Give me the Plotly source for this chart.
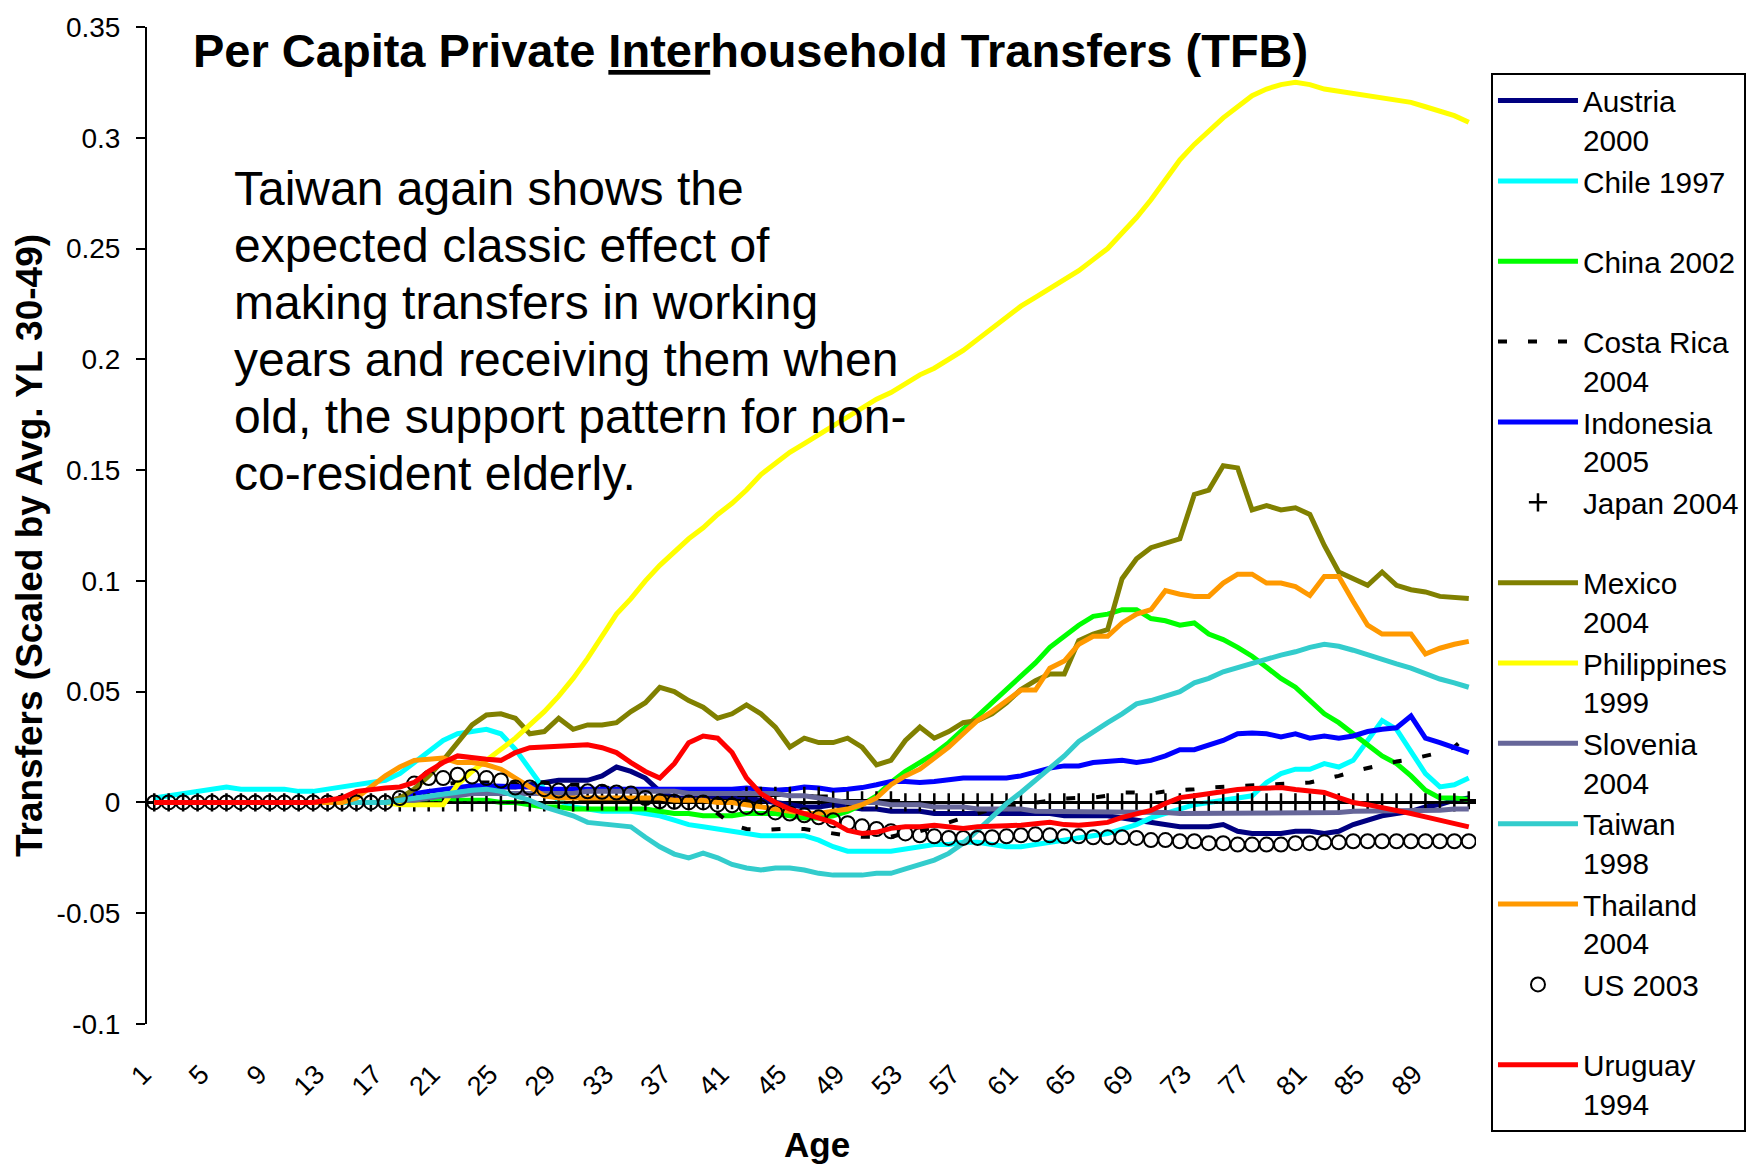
import plotly.graph_objects as go

AGES = list(range(1, 93))
TICK_AGES = list(range(1, 90, 4))
Y_TICKS = [-0.1, -0.05, 0, 0.05, 0.1, 0.15, 0.2, 0.25, 0.3, 0.35]
Y_TICK_TEXT = ["-0.1", "-0.05", "0", "0.05", "0.1", "0.15", "0.2", "0.25", "0.3", "0.35"]

AUSTRIA = [0, 0, 0, 0, 0, 0, 0, 0, 0, 0,
           0, 0, 0, 0, 0, 0, 0, 0, 0.001, 0.002,
           0.003, 0.004, 0.005, 0.006, 0.007, 0.007, 0.008, 0.009, 0.010, 0.010,
           0.010, 0.012, 0.016, 0.014, 0.011, 0.005, 0.002, 0.002, 0.002, 0.002,
           0.002, 0.002, 0.001, 0.000, -0.001, -0.002, -0.002, -0.001, -0.002, -0.003,
           -0.003, -0.004, -0.004, -0.004, -0.005, -0.005, -0.005, -0.005, -0.005, -0.005,
           -0.005, -0.005, -0.005, -0.006, -0.006, -0.006, -0.006, -0.007, -0.008, -0.009,
           -0.010, -0.011, -0.011, -0.011, -0.010, -0.013, -0.014, -0.014, -0.014, -0.013,
           -0.013, -0.014, -0.013, -0.010, -0.008, -0.006, -0.005, -0.004, -0.002, -0.001,
           0.001, 0.002]

CHILE = [0.002, 0.003, 0.004, 0.005, 0.006, 0.007, 0.006, 0.006, 0.006, 0.006,
         0.005, 0.005, 0.006, 0.007, 0.008, 0.009, 0.010, 0.013, 0.018, 0.023,
         0.028, 0.031, 0.032, 0.033, 0.031, 0.024, 0.015, 0.006, 0.001, -0.002,
         -0.003, -0.004, -0.004, -0.004, -0.005, -0.006, -0.008, -0.010, -0.011, -0.012,
         -0.013, -0.014, -0.015, -0.015, -0.015, -0.015, -0.017, -0.020, -0.022, -0.022,
         -0.022, -0.022, -0.021, -0.020, -0.019, -0.019, -0.018, -0.018, -0.019, -0.020,
         -0.020, -0.019, -0.018, -0.017, -0.016, -0.015, -0.014, -0.012, -0.010, -0.007,
         -0.005, -0.003, -0.001, 0.000, 0.001, 0.002, 0.003, 0.009, 0.013, 0.015,
         0.015, 0.0175, 0.016, 0.019, 0.028, 0.037, 0.033, 0.023, 0.013, 0.007,
         0.008, 0.011]

CHINA = [0, 0, 0, 0, 0, 0, 0, 0, 0, 0,
         0, 0, 0, 0, 0, 0, 0, 0, 0, 0,
         0.001, 0.001, 0.001, 0.001, 0.000, 0.000, -0.001, -0.002, -0.002, -0.003,
         -0.003, -0.003, -0.003, -0.003, -0.003, -0.004, -0.005, -0.005, -0.006, -0.006,
         -0.006, -0.005, -0.005, -0.005, -0.006, -0.007, -0.007, -0.006, -0.004, -0.001,
         0.003, 0.009, 0.014, 0.018, 0.022, 0.027, 0.033, 0.039, 0.045, 0.051,
         0.057, 0.063, 0.070, 0.075, 0.080, 0.084, 0.085, 0.087, 0.087, 0.083,
         0.082, 0.080, 0.081, 0.076, 0.0735, 0.070, 0.066, 0.061, 0.056, 0.052,
         0.046, 0.040, 0.036, 0.031, 0.0265, 0.021, 0.0175, 0.012, 0.0055, 0.002,
         0.002, 0.0013]

COSTA_RICA = [0, 0, 0, 0, 0, 0, 0, 0, 0, 0,
              0, 0, 0, 0, 0, 0, 0, 0, 0.002, 0.005,
              0.008, 0.009, 0.009, 0.009, 0.009, 0.009, 0.009, 0.009, 0.008, 0.008,
              0.008, 0.007, 0.006, 0.005, 0.004, 0.003, 0.002, 0.001, -0.001, -0.005,
              -0.010, -0.012, -0.0125, -0.012, -0.0117, -0.012, -0.013, -0.014, -0.015, -0.0155,
              -0.0157, -0.0155, -0.014, -0.013, -0.011, -0.009, -0.007, -0.005, -0.003, -0.002,
              -0.001, 0.000, 0.001, 0.0018, 0.002, 0.0022, 0.003, 0.0045, 0.0045, 0.004,
              0.005, 0.0054, 0.006, 0.0067, 0.007, 0.0072, 0.0076, 0.008, 0.0082, 0.0085,
              0.009, 0.0105, 0.012, 0.014, 0.0155, 0.017, 0.0185, 0.0195, 0.021, 0.0225,
              0.025, 0.031]

INDONESIA = [0, 0, 0, 0, 0, 0, 0, 0, 0, 0,
             0, 0, 0, 0, 0, 0, 0, 0.002, 0.004, 0.005,
             0.006, 0.007, 0.0075, 0.0075, 0.0075, 0.007, 0.007, 0.006, 0.006, 0.006,
             0.0055, 0.0055, 0.0055, 0.0055, 0.0055, 0.0055, 0.0055, 0.0055, 0.0058, 0.006,
             0.006, 0.0065, 0.006, 0.0055, 0.006, 0.007, 0.0065, 0.0055, 0.006, 0.0067,
             0.008, 0.0095, 0.0095, 0.009, 0.0095, 0.0105, 0.011, 0.011, 0.011, 0.011,
             0.012, 0.014, 0.0155, 0.0165, 0.0165, 0.018, 0.0185, 0.019, 0.018, 0.019,
             0.021, 0.0238, 0.0238, 0.026, 0.028, 0.031, 0.0314, 0.031, 0.0296, 0.031,
             0.029, 0.030, 0.029, 0.030, 0.032, 0.033, 0.0337, 0.039, 0.029, 0.027,
             0.0247, 0.0225]

JAPAN = [0, 0, 0, 0, 0, 0, 0, 0, 0, 0,
         0, 0, 0, 0, 0, 0, 0, 0, 0, 0,
         0, 0, 0, 0, 0, 0, 0, 0, 0, 0,
         0.0005, 0.0005, 0.0005, 0.0005, 0.0005, 0.001, 0.001, 0.001, 0.001, 0.001,
         0.001, 0.003, 0.003, 0.003, 0.003, 0.003, 0.003, 0.001, 0.001, 0.001,
         0.001, 0.001, 0, 0, 0, 0, 0, 0, 0, 0,
         0, 0, 0, 0, 0, 0, 0, 0, 0, 0,
         0, 0, 0, 0, 0, 0, 0, 0, 0, 0,
         0, 0, 0, 0, 0, 0, 0, 0, 0, 0,
         0, 0.001]

MEXICO = [0, 0, 0, 0, 0, 0, 0, 0, 0, 0,
          0, 0, 0, 0, 0, 0, 0, 0.002, 0.006, 0.012,
          0.019, 0.027, 0.035, 0.0395, 0.040, 0.038, 0.031, 0.032, 0.038, 0.033,
          0.035, 0.035, 0.036, 0.041, 0.045, 0.052, 0.050, 0.046, 0.043, 0.038,
          0.040, 0.044, 0.040, 0.034, 0.025, 0.029, 0.027, 0.027, 0.029, 0.025,
          0.017, 0.019, 0.028, 0.034, 0.029, 0.032, 0.036, 0.037, 0.040, 0.045,
          0.051, 0.055, 0.058, 0.058, 0.073, 0.076, 0.078, 0.101, 0.110, 0.115,
          0.117, 0.119, 0.139, 0.141, 0.152, 0.151, 0.132, 0.134, 0.132, 0.133,
          0.130, 0.116, 0.104, 0.101, 0.098, 0.104, 0.098, 0.096, 0.095, 0.093,
          0.0925, 0.092]

PHILIPPINES = [0, 0, 0, 0, 0, 0, 0, 0, 0, 0,
               0, 0, 0, 0, 0, 0, 0, -0.001, -0.001, -0.001,
               -0.001, 0.008, 0.014, 0.019, 0.024, 0.029, 0.035, 0.041, 0.048, 0.056,
               0.065, 0.075, 0.085, 0.092, 0.100, 0.107, 0.113, 0.119, 0.124, 0.130,
               0.135, 0.141, 0.148, 0.153, 0.158, 0.162, 0.166, 0.170, 0.174, 0.178,
               0.182, 0.185, 0.189, 0.193, 0.196, 0.200, 0.204, 0.209, 0.214, 0.219,
               0.224, 0.228, 0.232, 0.236, 0.240, 0.245, 0.250, 0.257, 0.264, 0.272,
               0.281, 0.290, 0.297, 0.303, 0.309, 0.314, 0.319, 0.322, 0.324, 0.325,
               0.324, 0.322, 0.321, 0.320, 0.319, 0.318, 0.317, 0.316, 0.314, 0.312,
               0.310, 0.307]

SLOVENIA = [0, 0, 0, 0, 0, 0, 0, 0, 0, 0,
            0, 0, 0, 0, 0, 0, 0, 0.001, 0.001, 0.002,
            0.003, 0.003, 0.004, 0.004, 0.004, 0.004, 0.004, 0.004, 0.004, 0.004,
            0.005, 0.005, 0.005, 0.005, 0.005, 0.005, 0.005, 0.004, 0.004, 0.004,
            0.004, 0.004, 0.004, 0.004, 0.003, 0.003, 0.002, 0.001, 0.000, 0.000,
            0.000, -0.001, -0.001, -0.001, -0.002, -0.002, -0.002, -0.003, -0.003, -0.003,
            -0.003, -0.004, -0.004, -0.004, -0.004, -0.004, -0.004, -0.004, -0.0045, -0.0045,
            -0.0045, -0.005, -0.005, -0.005, -0.005, -0.005, -0.005, -0.005, -0.0045, -0.0045,
            -0.0045, -0.0045, -0.0045, -0.004, -0.004, -0.004, -0.004, -0.004, -0.0035, -0.0035,
            -0.003, -0.003]

TAIWAN = [0, 0, 0, 0, 0, 0, 0, 0, 0, 0,
          0, 0, 0, 0, 0, 0, 0, 0.001, 0.002, 0.003,
          0.004, 0.005, 0.0055, 0.006, 0.005, 0.003, 0.001, -0.002, -0.004, -0.006,
          -0.009, -0.0095, -0.0103, -0.011, -0.0157, -0.020, -0.0233, -0.025, -0.0229, -0.025,
          -0.028, -0.0296, -0.0305, -0.0296, -0.0296, -0.0305, -0.032, -0.0328, -0.0328, -0.0328,
          -0.032, -0.032, -0.030, -0.028, -0.026, -0.023, -0.0184, -0.0126, -0.0067, -0.0005,
          0.0045, 0.0099, 0.015, 0.021, 0.0275, 0.032, 0.036, 0.040, 0.0445, 0.046,
          0.048, 0.050, 0.054, 0.056, 0.059, 0.061, 0.0625, 0.0647, 0.0665, 0.068,
          0.070, 0.0714, 0.0705, 0.0687, 0.0665, 0.0647, 0.0625, 0.0606, 0.058, 0.0557,
          0.054, 0.052]

THAILAND = [0, 0, 0, 0, 0, 0, 0, 0, 0, 0,
            0, 0, 0, 0, 0.002, 0.007, 0.012, 0.016, 0.019, 0.0195,
            0.020, 0.018, 0.018, 0.017, 0.015, 0.011, 0.007, 0.003, 0.002, 0.002,
            0.002, 0.002, 0.002, 0.002, 0.002, 0.002, 0.001, 0.001, 0.001, 0.000,
            0.000, -0.001, -0.002, -0.003, -0.004, -0.005, -0.005, -0.004, -0.003, -0.001,
            0.002, 0.008, 0.012, 0.015, 0.020, 0.025, 0.031, 0.037, 0.041, 0.046,
            0.0507, 0.0507, 0.0606, 0.0638, 0.0714, 0.075, 0.075, 0.081, 0.085, 0.087,
            0.0956, 0.094, 0.093, 0.093, 0.099, 0.103, 0.103, 0.099, 0.099, 0.0974,
            0.0934, 0.102, 0.102, 0.0907, 0.080, 0.076, 0.076, 0.076, 0.067, 0.0696,
            0.0714, 0.0727]

US = [0, 0, 0, 0, 0, 0, 0, 0, 0, 0,
      0, 0, 0, 0, 0, 0, 0, 0.002, 0.0085, 0.011,
      0.011, 0.0125, 0.0117, 0.011, 0.0099, 0.0067, 0.0067, 0.006, 0.0054, 0.005,
      0.005, 0.0048, 0.0045, 0.004, 0.002, 0.0005, 0.0003, 0.000, 0.000, -0.001,
      -0.0013, -0.002, -0.0022, -0.0045, -0.005, -0.0058, -0.0067, -0.008, -0.0094, -0.0108,
      -0.012, -0.013, -0.014, -0.0148, -0.0153, -0.016, -0.016, -0.016, -0.0157, -0.0153,
      -0.0148, -0.0144, -0.0148, -0.0153, -0.0153, -0.0157, -0.0157, -0.0157, -0.016, -0.017,
      -0.017, -0.0175, -0.0175, -0.0184, -0.0184, -0.019, -0.019, -0.019, -0.019, -0.0184,
      -0.0184, -0.018, -0.018, -0.0175, -0.0175, -0.0175, -0.0175, -0.0175, -0.0175, -0.0175,
      -0.0175, -0.0175]

URUGUAY = [0, 0, 0, 0, 0, 0, 0, 0, 0, 0,
           0, 0, 0.001, 0.002, 0.005, 0.006, 0.0065, 0.007, 0.009, 0.014,
           0.018, 0.021, 0.020, 0.0195, 0.019, 0.0225, 0.0247, 0.025, 0.0256, 0.026,
           0.026, 0.0247, 0.0225, 0.018, 0.014, 0.011, 0.0175, 0.027, 0.030, 0.029,
           0.0225, 0.011, 0.004, 0.000, -0.003, -0.005, -0.007, -0.009, -0.0126, -0.014,
           -0.0135, -0.0117, -0.011, -0.011, -0.0103, -0.011, -0.0117, -0.011, -0.011, -0.0105,
           -0.0103, -0.0095, -0.009, -0.010, -0.0103, -0.0097, -0.009, -0.0067, -0.005, -0.0036,
           -0.0005, 0.0022, 0.003, 0.004, 0.005, 0.0058, 0.0063, 0.0067, 0.0067, 0.0058,
           0.005, 0.0045, 0.0022, 0.000, -0.001, -0.0022, -0.0036, -0.005, -0.0065, -0.008,
           -0.0095, -0.011]

NBSP = "\u00a0"
SERIES = [
    ("Austria<br>2000", AUSTRIA, "line", "#000080"),
    ("Chile 1997<br>" + NBSP, CHILE, "line", "#00FFFF"),
    ("China 2002<br>" + NBSP, CHINA, "line", "#00FF00"),
    ("Costa Rica<br>2004", COSTA_RICA, "dash", "#000000"),
    ("Indonesia<br>2005", INDONESIA, "line", "#0000FF"),
    ("Japan 2004<br>" + NBSP, JAPAN, "cross", "#000000"),
    ("Mexico<br>2004", MEXICO, "line", "#808000"),
    ("Philippines<br>1999", PHILIPPINES, "line", "#FFFF00"),
    ("Slovenia<br>2004", SLOVENIA, "line", "#666699"),
    ("Taiwan<br>1998", TAIWAN, "line", "#33CCCC"),
    ("Thailand<br>2004", THAILAND, "line", "#FF9900"),
    ("US 2003<br>" + NBSP, US, "circle", "#000000"),
    ("Uruguay<br>1994", URUGUAY, "line", "#FF0000"),
]

FONT = "Liberation Sans, Arial, sans-serif"

fig = go.Figure()
for name, vals, kind, color in SERIES:
    if kind == "line":
        fig.add_trace(go.Scatter(x=AGES, y=vals, name=name, mode="lines",
                                 line=dict(color=color, width=5)))
    elif kind == "dash":
        fig.add_trace(go.Scatter(x=AGES, y=vals, name=name, mode="lines",
                                 line=dict(color=color, width=4, dash="9px,21px")))
    elif kind == "cross":
        fig.add_trace(go.Scatter(x=AGES, y=vals, name=name, mode="markers",
                                 marker=dict(symbol="cross-thin", size=13,
                                             line=dict(color=color, width=2.5))))
    else:
        fig.add_trace(go.Scatter(x=AGES, y=vals, name=name, mode="markers",
                                 marker=dict(symbol="circle-open", size=14, color=color,
                                             line=dict(color=color, width=2))))

NOTE_LINES = [
    "Taiwan again shows the",
    "expected classic effect of",
    "making transfers in working",
    "years and receiving them when",
    "old, the support pattern for non-",
    "co-resident elderly.",
]

# plot area pixels: x 147..1478, y 21..1024
def py(pix):
    return (1024 - pix) / 1003.0

def px(pix):
    return (pix - 147) / 1331.0

annotations = []
annotations.append(dict(text="Per Capita Private <u>Inter</u>household Transfers (TFB)",
                        xref="paper", yref="paper", x=px(191), y=py(45),
                        xanchor="left", yanchor="middle", showarrow=False,
                        font=dict(family=FONT, size=47, color="black", weight="bold")))
for i, line in enumerate(NOTE_LINES):
    annotations.append(dict(text=line, xref="paper", yref="paper",
                            x=px(232), y=py(183 + i * 57.5),
                            xanchor="left", yanchor="middle", showarrow=False,
                            font=dict(family=FONT, size=48, color="black")))
annotations.append(dict(text="Transfers (Scaled by Avg. YL 30-49)", xref="paper", yref="paper",
                        x=px(30), y=py(543), textangle=-90, xanchor="center", yanchor="middle",
                        showarrow=False,
                        font=dict(family=FONT, size=37, color="black", weight="bold")))
annotations.append(dict(text="Age", xref="paper", yref="paper",
                        x=px(818), y=py(1145), xanchor="center", yanchor="middle",
                        showarrow=False,
                        font=dict(family=FONT, size=35, color="black", weight="bold")))

fig.update_layout(
    width=1758, height=1167,
    margin=dict(l=147, r=280, t=21, b=143),
    paper_bgcolor="white", plot_bgcolor="white",
    font=dict(family=FONT, color="black"),
    showlegend=True,
    legend=dict(x=px(1493), xanchor="left", y=py(67), yanchor="top",
                bgcolor="white", bordercolor="black", borderwidth=2,
                font=dict(family=FONT, size=29.75, color="black"),
                itemwidth=80, valign="top", tracegroupgap=0, maxheight=1100),
    annotations=annotations,
    xaxis=dict(range=[0.5, 92.5], tickvals=TICK_AGES, ticktext=[str(a) for a in TICK_AGES],
               tickangle=-45, showline=False, ticks="", showgrid=False, zeroline=False,
               tickfont=dict(family=FONT, size=27, color="black"), ticklabelstandoff=28,
               ticklabelshift=-11),
    yaxis=dict(range=[-0.1, 0.35], tickvals=Y_TICKS, ticktext=Y_TICK_TEXT,
               showline=True, linecolor="black", linewidth=2,
               ticks="outside", ticklen=9, tickwidth=2, tickcolor="black",
               showgrid=False, zeroline=True, zerolinecolor="black", zerolinewidth=2.5,
               tickfont=dict(family=FONT, size=28, color="black"), ticklabelstandoff=10),
)

fig.write_html("out.html", config={"displayModeBar": False},
               post_script="document.body.style.margin='0px';")
